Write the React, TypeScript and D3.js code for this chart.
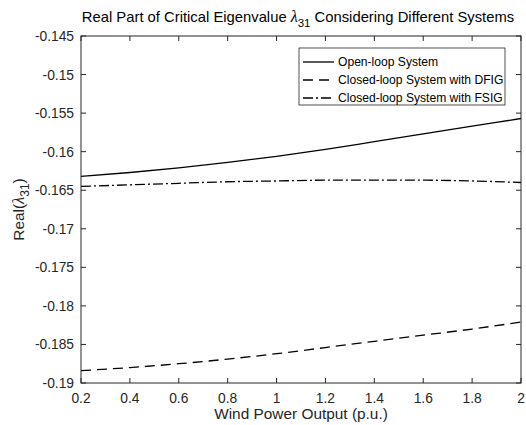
import React from 'react';
import * as d3 from 'd3';

const windPower = [0.2, 0.4, 0.6, 0.8, 1.0, 1.2, 1.4, 1.6, 1.8, 2.0];
const openLoop = [-0.1632, -0.1627, -0.1621, -0.1614, -0.1606, -0.1597, -0.1587, -0.1577, -0.1567, -0.1557];
const closedDfig = [-0.1884, -0.1880, -0.1875, -0.1869, -0.1862, -0.1854, -0.1846, -0.1838, -0.1830, -0.1821];
const closedFsig = [-0.1645, -0.1643, -0.1641, -0.1639, -0.1638, -0.1637, -0.1637, -0.1637, -0.1638, -0.1640];
const xTicks = [0.2, 0.4, 0.6, 0.8, 1, 1.2, 1.4, 1.6, 1.8, 2];
const yTicks = [-0.145, -0.15, -0.155, -0.16, -0.165, -0.17, -0.175, -0.18, -0.185, -0.19];
const seriesNames = ['Open-loop System', 'Closed-loop System with DFIG', 'Closed-loop System with FSIG'];

const W = 526, H = 425;
const m = { left: 81, right: 5, top: 36, bottom: 42 };
const font = '"Liberation Sans", Arial, sans-serif';

export default function App() {
  const x = d3.scaleLinear().domain([0.2, 2]).range([m.left, W - m.right]);
  const y = d3.scaleLinear().domain([-0.19, -0.145]).range([H - m.bottom, m.top]);

  const line = d3.line<number>().x((_, i) => x(windPower[i])).y(d => y(d)).curve(d3.curveMonotoneX);
  const dashes = ['none', '10 6', '10 3 2 3'];
  const series = [openLoop, closedDfig, closedFsig];

  const x0 = m.left, x1 = W - m.right, y0 = m.top, y1 = H - m.bottom;
  const tk = 5;

  return (
    <svg width={W} height={H} style={{ position: 'absolute', left: 0, top: 0, background: '#fff' }} fontFamily={font}>
      <rect x={0} y={0} width={W} height={H} fill="#fff" />
      {/* title */}
      <text x={298} y={22} textAnchor="middle" fontSize={14.8} fill="#000">
        <tspan>Real Part of Critical Eigenvalue </tspan>
        <tspan fontFamily='"Liberation Serif", serif' fontStyle="italic" fontSize={16}>λ</tspan>
        <tspan fontSize={11.5} dy={5}>31</tspan>
        <tspan dy={-5}> Considering Different Systems</tspan>
      </text>

      {/* series */}
      {series.map((s, i) => (
        <path key={i} d={line(s) || ''} fill="none" stroke="#000" strokeWidth={1.3} strokeDasharray={dashes[i]} />
      ))}

      {/* axes box */}
      <rect x={x0} y={y0} width={x1 - x0} height={y1 - y0} fill="none" stroke="#262626" strokeWidth={1} />
      {xTicks.map(t => (
        <g key={'x' + t}>
          <line x1={x(t)} x2={x(t)} y1={y1} y2={y1 - tk} stroke="#262626" />
          <line x1={x(t)} x2={x(t)} y1={y0} y2={y0 + tk} stroke="#262626" />
          <text x={x(t)} y={y1 + 20} textAnchor="middle" fontSize={13.8} fill="#262626">{t}</text>
        </g>
      ))}
      {yTicks.map(t => (
        <g key={'y' + t}>
          <line x1={x0} x2={x0 + tk} y1={y(t)} y2={y(t)} stroke="#262626" />
          <line x1={x1} x2={x1 - tk} y1={y(t)} y2={y(t)} stroke="#262626" />
          <text x={x0 - 7} y={y(t) + 5} textAnchor="end" fontSize={13.8} fill="#262626">{t}</text>
        </g>
      ))}

      {/* axis labels */}
      <text x={(x0 + x1) / 2} y={419} textAnchor="middle" fontSize={15.4} fill="#262626">Wind Power Output (p.u.)</text>
      <text transform={`translate(24,${(y0 + y1) / 2}) rotate(-90)`} textAnchor="middle" fontSize={15.4} fill="#262626">
        <tspan>Real(</tspan>
        <tspan fontFamily='"Liberation Serif", serif' fontStyle="italic" fontSize={16.5}>λ</tspan>
        <tspan fontSize={12} dy={5}>31</tspan>
        <tspan dy={-5}>)</tspan>
      </text>

      {/* legend */}
      <g>
        <rect x={299} y={48} width={206} height={57} fill="#fff" stroke="#262626" strokeWidth={0.8} />
        {seriesNames.map((n, i) => (
          <g key={n}>
            <line x1={303} x2={334} y1={62 + i * 18} y2={62 + i * 18} stroke="#000" strokeWidth={1.3} strokeDasharray={dashes[i]} />
            <text x={338} y={66 + i * 18} fontSize={12.1} fill="#000">{n}</text>
          </g>
        ))}
      </g>
    </svg>
  );
}
